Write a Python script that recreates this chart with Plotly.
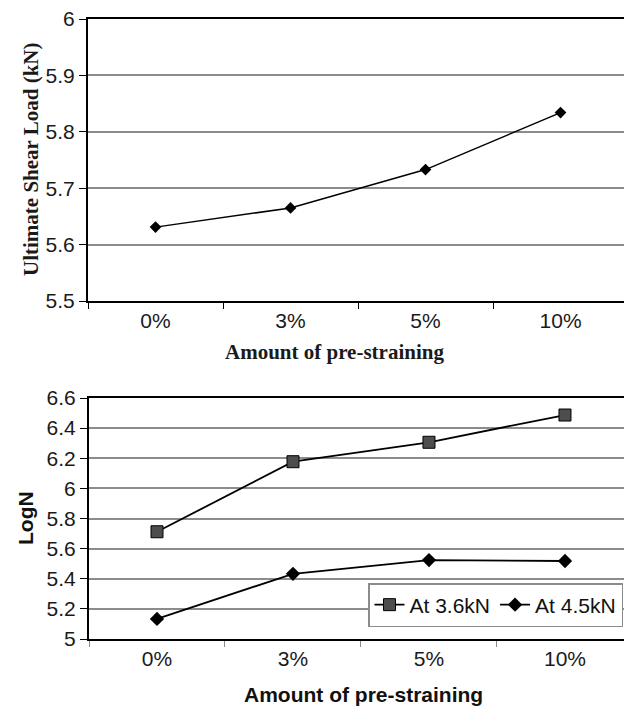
import plotly.graph_objects as go

# ---- data ----
categories = ["0%", "3%", "5%", "10%"]
shear_load = [5.631, 5.665, 5.733, 5.834]
logn_36 = [5.712, 6.177, 6.306, 6.487]
logn_45 = [5.133, 5.433, 5.524, 5.518]

top_tickvals = [5.5, 5.6, 5.7, 5.8, 5.9, 6.0]
top_ticktext = ["5.5", "5.6", "5.7", "5.8", "5.9", "6"]
bot_tickvals = [5.0, 5.2, 5.4, 5.6, 5.8, 6.0, 6.2, 6.4, 6.6]
bot_ticktext = ["5", "5.2", "5.4", "5.6", "5.8", "6", "6.2", "6.4", "6.6"]

W, H = 624, 709
SANS = "Liberation Sans, Arial, sans-serif"
SERIF = "Liberation Serif, Times New Roman, serif"
GRID = "#8c8c8c"
FS = 21

fig = go.Figure()

fig.add_trace(go.Scatter(
    x=categories, y=shear_load, mode="lines+markers",
    line=dict(color="black", width=1.5),
    marker=dict(symbol="diamond", size=9, color="black"),
    xaxis="x", yaxis="y", showlegend=False))

fig.add_trace(go.Scatter(
    x=categories, y=logn_36, mode="lines+markers", name="At 3.6kN",
    line=dict(color="black", width=1.8),
    marker=dict(symbol="square", size=12, color="#4d4d4d",
                line=dict(color="black", width=1)),
    xaxis="x2", yaxis="y2"))

fig.add_trace(go.Scatter(
    x=categories, y=logn_45, mode="lines+markers", name="At 4.5kN",
    line=dict(color="black", width=1.8),
    marker=dict(symbol="diamond", size=11, color="black"),
    xaxis="x2", yaxis="y2"))

def xax(domain, rng, tickcolor, anchor):
    return dict(domain=domain, anchor=anchor, type="category",
                categoryorder="array", categoryarray=categories,
                range=rng, showgrid=False, showline=True, mirror=True,
                linecolor="black", linewidth=2, ticks="outside",
                tickson="boundaries", ticklen=6, tickcolor=tickcolor,
                tickwidth=1, tickfont=dict(family=SANS, size=FS, color="#1a1a1a"),
                zeroline=False, fixedrange=True, automargin=False)

def yax(domain, rng, vals, texts, anchor):
    return dict(domain=domain, anchor=anchor, range=rng,
                tickvals=vals, ticktext=texts, showgrid=True,
                gridcolor=GRID, gridwidth=1.5, showline=True,
                linecolor="black", linewidth=2, ticks="outside",
                ticklen=7, tickcolor="black", tickwidth=1,
                tickfont=dict(family=SANS, size=FS, color="#1a1a1a"),
                zeroline=False, fixedrange=True, automargin=False)

fig.update_layout(
    template="none",
    width=W, height=H,
    margin=dict(l=0, r=0, t=0, b=0, pad=0, autoexpand=False),
    paper_bgcolor="white", plot_bgcolor="white",
    xaxis=xax([88 / W, 1], [-0.5, 3.47], "black", "y"),
    yaxis=yax([(H - 301) / H, (H - 19) / H], [5.5, 6.0],
              top_tickvals, top_ticktext, "x"),
    xaxis2=xax([89 / W, 1], [-0.5, 3.434], GRID, "y2"),
    yaxis2=yax([(H - 639) / H, (H - 398) / H], [5.0, 6.6],
               bot_tickvals, bot_ticktext, "x2"),
    legend=dict(orientation="h", x=623 / W, xanchor="right",
                y=(H - 627) / H, yanchor="bottom",
                bgcolor="white", bordercolor=GRID, borderwidth=1.5,
                font=dict(family=SANS, size=FS, color="#111"),
                itemwidth=30, tracegroupgap=0),
    annotations=[
        dict(text="<b>Ultimate Shear Load (kN)</b>", xref="paper", yref="paper",
             x=31 / W, y=(H - 159) / H, textangle=-90, showarrow=False,
             xanchor="center", yanchor="middle",
             font=dict(family=SERIF, size=FS, color="#1a1a1a")),
        dict(text="<b>Amount of pre-straining</b>", xref="paper", yref="paper",
             x=334 / W, y=(H - 352) / H, showarrow=False,
             xanchor="center", yanchor="middle",
             font=dict(family=SERIF, size=FS, color="#1a1a1a")),
        dict(text="<b>LogN</b>", xref="paper", yref="paper",
             x=25 / W, y=(H - 518) / H, textangle=-90, showarrow=False,
             xanchor="center", yanchor="middle",
             font=dict(family=SANS, size=FS, color="#111")),
        dict(text="<b>Amount of pre-straining</b>", xref="paper", yref="paper",
             x=363 / W, y=(H - 694) / H, showarrow=False,
             xanchor="center", yanchor="middle",
             font=dict(family=SANS, size=FS, color="#111")),
    ],
)

fig.write_html(
    "out.html",
    config={"displayModeBar": False},
    post_script="document.body.style.margin='0px';document.body.style.overflow='hidden';",
)
